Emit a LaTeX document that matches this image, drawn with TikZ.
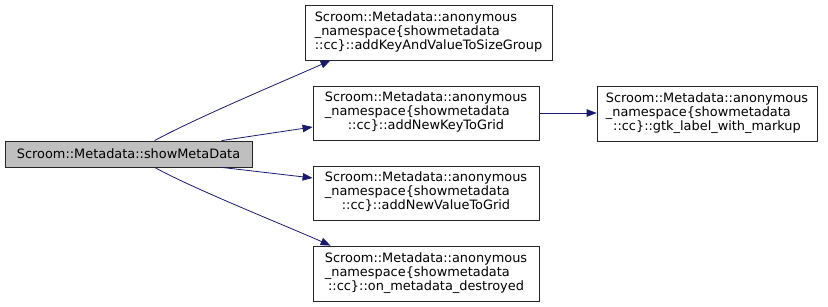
\documentclass[tikz,border=0pt]{standalone}
\usepackage{fontspec}
\setmainfont{DejaVu Sans}
\usetikzlibrary{arrows.meta}
\definecolor{edgeblue}{HTML}{191970}
\definecolor{nodegray}{HTML}{BFBFBF}
\newcommand{\fnlabel}[3]{\begin{tabular}{@{}l@{}}#1\\#2\\\multicolumn{1}{@{}c@{}}{#3}\end{tabular}}
\begin{document}
\begin{tikzpicture}[x=1pt,y=-1pt,
  font=\fontsize{12.9}{13.7}\selectfont,
  fnbox/.style={draw=black!85, line width=0.8pt, rectangle, inner sep=0pt, fill=white},
  call/.style={draw=edgeblue, line width=0.8pt, -{Triangle[length=10pt,width=7.5pt]}, fill=none}]
\useasboundingbox (0,0) rectangle (828,307);

\node[fnbox, fill=nodegray, minimum width=247pt, minimum height=26pt] (m) at (128.5,154) {Scroom::Metadata::showMetaData};

\node[fnbox, minimum width=247pt, minimum height=55pt] (b1) at (428.5,32.5)
  {\fnlabel{Scroom::Metadata::anonymous}{\_namespace\{showmetadata}{::cc\}::addKeyAndValueToSizeGroup}};
\node[fnbox, minimum width=226pt, minimum height=54pt] (b2) at (426,113)
  {\fnlabel{Scroom::Metadata::anonymous}{\_namespace\{showmetadata}{::cc\}::addNewKeyToGrid}};
\node[fnbox, minimum width=226pt, minimum height=54pt] (b3) at (426,193)
  {\fnlabel{Scroom::Metadata::anonymous}{\_namespace\{showmetadata}{::cc\}::addNewValueToGrid}};
\node[fnbox, minimum width=226pt, minimum height=55pt] (b4) at (426,273.5)
  {\fnlabel{Scroom::Metadata::anonymous}{\_namespace\{showmetadata}{::cc\}::on\_metadata\_destroyed}};
\node[fnbox, minimum width=220pt, minimum height=55pt] (b5) at (707,113.5)
  {\fnlabel{Scroom::Metadata::anonymous}{\_namespace\{showmetadata}{::cc\}::gtk\_label\_with\_markup}};

\draw[call] ([xshift=150pt]m.north west) .. controls +(40pt,22pt) and +(-45pt,-20pt) .. ([xshift=26pt]b1.south west);
\draw[call] ([xshift=217pt]m.north west) -- ([yshift=-14pt]b2.west);
\draw[call] ([xshift=217pt]m.south west) -- ([yshift=15pt]b3.west);
\draw[call] ([xshift=150pt]m.south west) .. controls +(40pt,-22pt) and +(-45pt,20pt) .. ([xshift=18pt]b4.north west);
\draw[call] (b2.east) -- (b2.east -| b5.west);
\end{tikzpicture}
\end{document}
